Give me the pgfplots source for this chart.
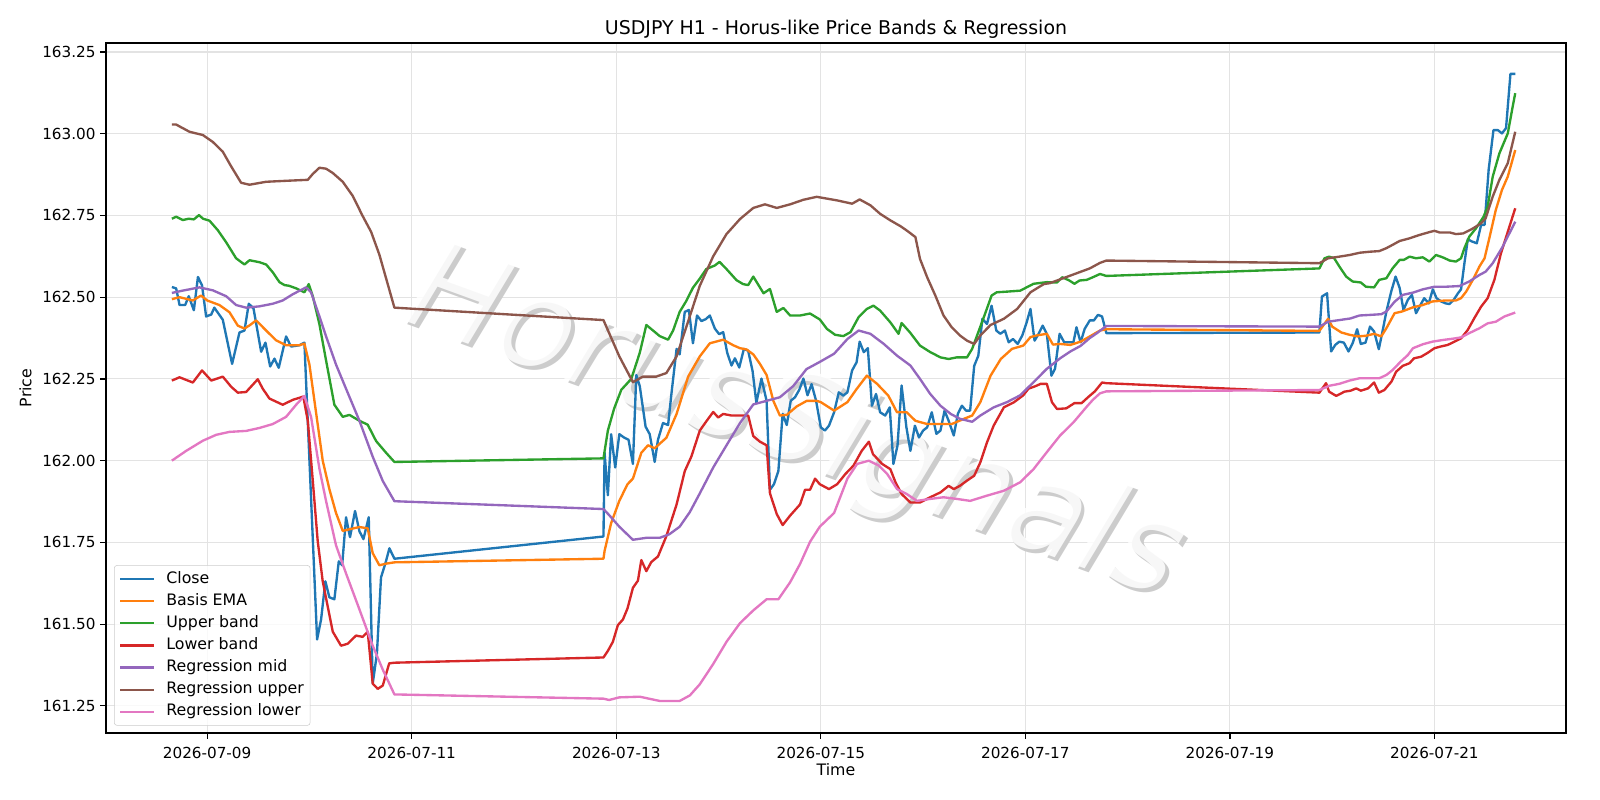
\documentclass[border=0pt]{standalone}
\usepackage{pgfplots}
\pgfplotsset{compat=1.18}
\usepackage{fontspec}
\setmainfont{DejaVu Sans}

\definecolor{cClose}{HTML}{1F77B4}
\definecolor{cBasis}{HTML}{FF7F0E}
\definecolor{cUpper}{HTML}{2CA02C}
\definecolor{cLower}{HTML}{D62728}
\definecolor{cMid}{HTML}{9467BD}
\definecolor{cRegUp}{HTML}{8C564B}
\definecolor{cRegLo}{HTML}{E377C2}

\pgfplotsset{series/.style={#1, line width=1.7pt, line join=round}}

\begin{document}
\begin{tikzpicture}
\begin{axis}[
  at={(0,0)}, anchor=south west,
  width=14.60in, height=6.90in, scale only axis,
  xmin=8.011, xmax=22.286, ymin=161.167, ymax=163.2775,
  xtick={9,11,13,15,17,19,21},
  xticklabels={2026-07-09,2026-07-11,2026-07-13,2026-07-15,2026-07-17,2026-07-19,2026-07-21},
  ytick={161.25,161.5,161.75,162,162.25,162.5,162.75,163,163.25},
  scaled y ticks=false,
  yticklabel style={/pgf/number format/.cd, fixed, fixed zerofill, precision=2},
  xticklabel style={yshift=-2.5pt},
  /pgf/number format/assume math mode=true,
  tick label style={font=\fontsize{11}{13}\selectfont},
  tick align=outside, major tick length=4pt,
  tick style={black, line width=0.9pt},
  xtick pos=bottom, ytick pos=left,
  axis line style={line width=0.9pt},
  grid=major, grid style={line width=0.8pt, black!11},
  title={USDJPY H1 - Horus-like Price Bands \& Regression},
  title style={at={(0.5,1)}, anchor=base, yshift=0.5pt, font=\fontsize{13.7}{16}\selectfont},
  xlabel={Time}, ylabel={Price},
  xlabel style={at={(axis description cs:0.5,-0.0616)}, anchor=base, font=\fontsize{11.4}{13}\selectfont},
  ylabel style={at={(axis description cs:-0.0551,0.5)}, anchor=center, font=\fontsize{11.4}{13}\selectfont},
  legend cell align=left,
  legend image code/.code={\draw[#1] (0cm,0cm) -- (0.86cm,0cm);},
  legend style={at={(0.0055,0.0106)}, anchor=south west, draw=black!20,
    rounded corners=2pt, fill=white, fill opacity=0.8, text opacity=1,
    font=\fontsize{11.4}{13}\selectfont, inner xsep=3.5pt, inner ysep=3.3pt,
    row sep=3pt, column sep=7pt,
    nodes={inner sep=1pt, text height=8.5pt, text depth=2.5pt}},
]

% faint watermark behind the series
\node[xshift=2.8pt, yshift=-2.8pt, rotate=-20, text=black!20,
      font=\fontsize{90}{90}\selectfont\itshape] at (axis cs:14.74,162.105) {HorusSignals};
\node[rotate=-20, text=white, text opacity=0.85,
      font=\fontsize{90}{90}\selectfont\itshape] at (axis cs:14.74,162.105) {HorusSignals};

% Close
\addplot[series=cClose] coordinates {
(8.655,162.531) (8.697,162.527) (8.73,162.476) (8.785,162.476) (8.82,162.503) (8.87,162.46)
(8.91,162.562) (8.95,162.536) (8.99,162.441) (9.04,162.447) (9.07,162.468) (9.153,162.431)
(9.244,162.296) (9.316,162.392) (9.365,162.398) (9.407,162.48) (9.453,162.466) (9.528,162.333)
(9.57,162.361) (9.616,162.288) (9.658,162.312) (9.70,162.284) (9.772,162.38) (9.82,162.349)
(9.902,162.353) (9.951,162.361) (10.075,161.453) (10.114,161.514) (10.156,161.631) (10.195,161.582)
(10.244,161.576) (10.287,161.692) (10.32,161.68) (10.358,161.827) (10.397,161.766) (10.446,161.846)
(10.489,161.784) (10.528,161.76) (10.58,161.827) (10.619,161.318) (10.66,161.41) (10.7,161.643)
(10.743,161.686) (10.782,161.732) (10.831,161.70)
(12.875,161.768) (12.886,162.024) (12.918,161.894) (12.95,162.081) (12.99,161.979) (13.03,162.081)
(13.08,162.07) (13.12,162.064) (13.163,161.99) (13.196,162.262) (13.23,162.228) (13.287,162.104)
(13.327,162.081) (13.376,161.996) (13.408,162.064) (13.457,162.115) (13.507,162.109) (13.54,162.206)
(13.59,162.342) (13.62,162.325) (13.67,162.455) (13.71,162.461) (13.75,162.359) (13.79,162.444)
(13.833,162.427) (13.876,162.433) (13.915,162.444) (13.964,162.404) (14.006,162.387) (14.046,162.393)
(14.085,162.33) (14.127,162.291) (14.16,162.313) (14.203,162.285) (14.248,162.342) (14.29,162.336)
(14.333,162.274) (14.37,162.177) (14.42,162.251) (14.47,162.183) (14.503,161.911) (14.542,161.928)
(14.585,161.968) (14.627,162.143) (14.667,162.109) (14.706,162.183) (14.748,162.194) (14.79,162.217)
(14.83,162.251) (14.87,162.2) (14.91,162.234) (14.954,162.183) (15.0,162.102) (15.04,162.092)
(15.08,162.107) (15.13,162.148) (15.176,162.209) (15.22,162.199) (15.26,162.209) (15.306,162.276)
(15.35,162.301) (15.38,162.364) (15.42,162.332) (15.46,162.344) (15.5,162.168) (15.54,162.204)
(15.58,162.148) (15.63,162.138) (15.674,162.163) (15.71,161.99) (15.75,162.046) (15.79,162.23)
(15.837,162.102) (15.876,162.03) (15.92,162.107) (15.96,162.071) (16.0,162.092) (16.04,162.102)
(16.085,162.148) (16.13,162.082) (16.17,162.092) (16.21,162.153) (16.25,162.122) (16.3,162.077)
(16.34,162.143) (16.38,162.168) (16.42,162.153) (16.46,162.153) (16.5,162.29) (16.54,162.321)
(16.58,162.434) (16.625,162.418) (16.67,162.474) (16.716,162.398) (16.755,162.388) (16.8,162.398)
(16.837,162.362) (16.88,162.372) (16.925,162.357) (16.97,162.383) (17.01,162.42) (17.05,162.464)
(17.09,162.367) (17.13,162.388) (17.17,162.413) (17.21,162.388) (17.255,162.26) (17.29,162.281)
(17.335,162.388) (17.38,162.362) (17.42,162.362) (17.47,162.362) (17.5,162.408) (17.54,162.362)
(17.58,162.403) (17.63,162.429) (17.67,162.429) (17.71,162.446) (17.75,162.441) (17.792,162.39)
(19.875,162.392) (19.9,162.502) (19.95,162.512) (19.99,162.334) (20.03,162.354) (20.07,162.364)
(20.114,162.361) (20.16,162.334) (20.2,162.359) (20.244,162.402) (20.28,162.357) (20.326,162.361)
(20.37,162.41) (20.41,162.395) (20.456,162.341) (20.495,162.4) (20.53,162.456) (20.577,162.517)
(20.62,162.563) (20.66,162.528) (20.697,162.461) (20.74,162.492) (20.78,162.507) (20.82,162.451)
(20.863,162.476) (20.9,162.497) (20.944,162.481) (20.984,162.524) (21.02,162.497) (21.065,162.487)
(21.11,162.481) (21.147,162.479) (21.186,162.491) (21.23,162.512) (21.26,162.524) (21.293,162.604)
(21.326,162.677) (21.37,162.67) (21.414,162.665) (21.456,162.721) (21.49,162.721) (21.53,162.89)
(21.577,163.011) (21.62,163.011) (21.66,163.001) (21.7,163.017) (21.743,163.183) (21.79,163.183)
};
\addlegendentry{Close}

% Basis EMA
\addplot[series=cBasis] coordinates {
(8.655,162.494) (8.73,162.50) (8.86,162.49) (8.94,162.505) (9.0,162.49) (9.12,162.476)
(9.218,162.454) (9.30,162.413) (9.365,162.404) (9.42,162.415) (9.479,162.429) (9.577,162.398)
(9.674,162.368) (9.772,162.353) (9.902,162.353) (9.951,162.358) (10.0,162.294) (10.065,162.147)
(10.13,162.0) (10.195,161.913) (10.26,161.84) (10.326,161.785) (10.39,161.79) (10.489,161.797)
(10.57,161.793) (10.619,161.717) (10.684,161.68) (10.75,161.685) (10.831,161.689)
(12.875,161.70) (12.886,161.724) (12.95,161.809) (13.03,161.877) (13.11,161.928) (13.163,161.945)
(13.245,162.024) (13.31,162.047) (13.376,162.038) (13.49,162.07) (13.59,162.143) (13.703,162.257)
(13.817,162.319) (13.915,162.359) (14.046,162.37) (14.144,162.353) (14.21,162.344) (14.275,162.34)
(14.34,162.325) (14.405,162.296) (14.47,162.262) (14.536,162.183) (14.6,162.138) (14.667,162.14)
(14.765,162.166) (14.863,162.183) (14.96,162.183) (15.0,162.179) (15.13,162.153) (15.26,162.179)
(15.35,162.219) (15.45,162.26) (15.55,162.235) (15.66,162.199) (15.745,162.148) (15.84,162.148)
(15.925,162.122) (16.04,162.112) (16.17,162.112) (16.28,162.112) (16.4,162.128) (16.48,162.138)
(16.56,162.179) (16.66,162.26) (16.76,162.311) (16.87,162.342) (16.98,162.352) (17.05,162.378)
(17.11,162.383) (17.21,162.388) (17.27,162.355) (17.34,162.357) (17.44,162.354) (17.54,162.364)
(17.63,162.38) (17.73,162.398) (17.792,162.402)
(19.875,162.397) (19.96,162.434) (20.0,162.41) (20.09,162.392) (20.17,162.385) (20.25,162.38)
(20.33,162.382) (20.41,162.388) (20.48,162.38) (20.53,162.405) (20.61,162.451) (20.68,162.456)
(20.74,162.463) (20.79,162.469) (20.886,162.476) (20.98,162.487) (21.114,162.49) (21.21,162.49)
(21.26,162.497) (21.31,162.517) (21.375,162.553) (21.44,162.594) (21.49,162.619) (21.54,162.685)
(21.6,162.767) (21.66,162.828) (21.717,162.869) (21.79,162.95)
};
\addlegendentry{Basis EMA}

% Upper band
\addplot[series=cUpper] coordinates {
(8.655,162.74) (8.697,162.746) (8.762,162.736) (8.82,162.74) (8.87,162.738) (8.92,162.751)
(8.96,162.74) (9.023,162.734) (9.104,162.705) (9.186,162.668) (9.283,162.619) (9.365,162.60)
(9.414,162.613) (9.511,162.607) (9.577,162.60) (9.642,162.576) (9.707,162.546) (9.756,162.537)
(9.80,162.535) (9.87,162.527) (9.951,162.515) (9.993,162.54) (10.033,162.503) (10.098,162.417)
(10.163,162.306) (10.244,162.171) (10.326,162.134) (10.391,162.14) (10.489,162.122) (10.57,162.11)
(10.652,162.06) (10.75,162.024) (10.831,161.996)
(12.875,162.007) (12.918,162.092) (12.98,162.16) (13.05,162.217) (13.147,162.25) (13.23,162.33)
(13.294,162.415) (13.36,162.398) (13.425,162.381) (13.507,162.37) (13.556,162.398) (13.62,162.455)
(13.686,162.489) (13.75,162.529) (13.817,162.557) (13.88,162.586) (13.964,162.597) (14.01,162.608)
(14.078,162.586) (14.176,162.552) (14.24,162.54) (14.29,162.537) (14.34,162.563) (14.44,162.512)
(14.503,162.525) (14.569,162.455) (14.634,162.467) (14.70,162.444) (14.797,162.444) (14.895,162.45)
(14.99,162.432) (15.06,162.403) (15.14,162.385) (15.22,162.381) (15.29,162.393) (15.37,162.439)
(15.45,162.464) (15.515,162.474) (15.58,162.459) (15.68,162.423) (15.76,162.388) (15.79,162.421)
(15.87,162.393) (15.97,162.352) (16.07,162.332) (16.17,162.316) (16.25,162.311) (16.33,162.316)
(16.43,162.316) (16.48,162.342) (16.54,162.393) (16.6,162.444) (16.67,162.505) (16.72,162.515)
(16.82,162.517) (16.95,162.52) (17.08,162.541) (17.21,162.546) (17.31,162.545) (17.36,162.561)
(17.43,162.551) (17.48,162.541) (17.53,162.551) (17.6,162.553) (17.66,162.561) (17.73,162.571)
(17.792,162.565)
(19.875,162.588) (19.925,162.619) (19.97,162.624) (20.02,162.619) (20.07,162.594) (20.137,162.563)
(20.2,162.548) (20.28,162.545) (20.33,162.532) (20.41,162.53) (20.46,162.553) (20.53,162.558)
(20.59,162.588) (20.66,162.614) (20.7,162.614) (20.756,162.624) (20.82,162.619) (20.886,162.622)
(20.95,162.609) (21.016,162.629) (21.08,162.622) (21.15,162.612) (21.21,162.609) (21.26,162.619)
(21.293,162.65) (21.34,162.685) (21.407,162.711) (21.48,162.746) (21.52,162.777) (21.57,162.869)
(21.635,162.94) (21.717,163.001) (21.765,163.083) (21.79,163.124)
};
\addlegendentry{Upper band}

% Lower band
\addplot[series=cLower] coordinates {
(8.655,162.245) (8.73,162.255) (8.86,162.239) (8.95,162.276) (9.04,162.245) (9.153,162.257)
(9.235,162.226) (9.30,162.208) (9.381,162.21) (9.495,162.249) (9.544,162.22) (9.609,162.19)
(9.739,162.171) (9.837,162.186) (9.94,162.196) (9.984,162.122) (10.033,161.938) (10.081,161.754)
(10.13,161.631) (10.228,161.477) (10.309,161.434) (10.374,161.44) (10.456,161.465) (10.521,161.461)
(10.57,161.477) (10.619,161.318) (10.668,161.302) (10.717,161.312) (10.78,161.38) (10.831,161.382)
(12.875,161.398) (12.918,161.418) (12.967,161.446) (13.016,161.497) (13.065,161.514) (13.11,161.548)
(13.163,161.611) (13.212,161.633) (13.245,161.696) (13.294,161.662) (13.343,161.69) (13.408,161.707)
(13.49,161.769) (13.59,161.866) (13.67,161.968) (13.735,162.013) (13.817,162.092) (13.88,162.12)
(13.948,162.149) (13.997,162.132) (14.046,162.143) (14.127,162.138) (14.21,162.138) (14.29,162.138)
(14.34,162.075) (14.405,162.058) (14.47,162.047) (14.503,161.9) (14.569,161.837) (14.627,161.803)
(14.7,161.832) (14.797,161.866) (14.846,161.911) (14.895,161.911) (14.944,161.945) (14.99,161.928)
(15.08,161.913) (15.16,161.928) (15.24,161.959) (15.32,161.985) (15.4,162.03) (15.47,162.058)
(15.51,162.02) (15.6,161.99) (15.68,161.974) (15.73,161.934) (15.79,161.898) (15.876,161.872)
(15.97,161.872) (16.07,161.888) (16.17,161.903) (16.25,161.923) (16.3,161.913) (16.36,161.923)
(16.43,161.939) (16.5,161.954) (16.56,161.995) (16.625,162.056) (16.69,162.107) (16.79,162.163)
(16.89,162.179) (16.98,162.2) (17.03,162.22) (17.1,162.228) (17.15,162.235) (17.21,162.235)
(17.26,162.179) (17.31,162.158) (17.4,162.16) (17.48,162.176) (17.55,162.176) (17.62,162.196)
(17.68,162.212) (17.75,162.239) (17.792,162.237)
(19.875,162.208) (19.94,162.237) (19.97,162.211) (20.04,162.198) (20.12,162.211) (20.18,162.214)
(20.235,162.221) (20.28,162.214) (20.35,162.221) (20.41,162.239) (20.456,162.208) (20.51,162.216)
(20.58,162.242) (20.625,162.272) (20.69,162.29) (20.756,162.298) (20.8,162.313) (20.87,162.318)
(20.935,162.33) (21.0,162.344) (21.06,162.349) (21.13,162.354) (21.195,162.364) (21.26,162.374)
(21.326,162.4) (21.39,162.436) (21.456,162.471) (21.52,162.497) (21.586,162.553) (21.65,162.634)
(21.717,162.7) (21.79,162.772)
};
\addlegendentry{Lower band}

% Regression mid
\addplot[series=cMid] coordinates {
(8.655,162.513) (8.76,162.52) (8.925,162.53) (9.055,162.521) (9.186,162.503) (9.283,162.476)
(9.381,162.468) (9.511,162.472) (9.642,162.48) (9.739,162.49) (9.837,162.509) (9.967,162.53)
(10.016,162.515) (10.098,162.441) (10.163,162.38) (10.26,162.294) (10.358,162.22) (10.489,162.122)
(10.619,162.012) (10.717,161.938) (10.831,161.876)
(12.875,161.852) (12.935,161.832) (13.03,161.798) (13.163,161.758) (13.294,161.764) (13.425,161.764)
(13.52,161.775) (13.62,161.798) (13.72,161.843) (13.817,161.9) (13.948,161.979) (14.078,162.047)
(14.21,162.115) (14.34,162.172) (14.47,162.183) (14.6,162.194) (14.73,162.228) (14.86,162.28)
(14.99,162.302) (15.13,162.327) (15.26,162.372) (15.37,162.398) (15.485,162.388) (15.616,162.357)
(15.746,162.321) (15.876,162.291) (15.97,162.25) (16.07,162.204) (16.17,162.168) (16.27,162.143)
(16.36,162.128) (16.48,162.119) (16.56,162.138) (16.69,162.163) (16.82,162.179) (16.95,162.2)
(17.08,162.24) (17.21,162.281) (17.34,162.313) (17.44,162.334) (17.54,162.351) (17.63,162.375)
(17.7,162.39) (17.792,162.412)
(19.875,162.41) (19.96,162.425) (20.07,162.43) (20.18,162.435) (20.267,162.444) (20.38,162.446)
(20.48,162.448) (20.53,162.456) (20.61,162.486) (20.69,162.507) (20.79,162.514) (20.886,162.524)
(21.0,162.532) (21.11,162.532) (21.244,162.534) (21.34,162.548) (21.44,162.568) (21.5,162.578)
(21.57,162.604) (21.668,162.655) (21.79,162.731)
};
\addlegendentry{Regression mid}

% Regression upper
\addplot[series=cRegUp] coordinates {
(8.655,163.028) (8.697,163.028) (8.827,163.006) (8.958,162.996) (9.055,162.975) (9.153,162.945)
(9.235,162.90) (9.332,162.85) (9.414,162.844) (9.577,162.853) (9.772,162.856) (9.984,162.859)
(10.033,162.877) (10.098,162.896) (10.163,162.893) (10.228,162.88) (10.326,162.853) (10.423,162.81)
(10.521,162.748) (10.603,162.70) (10.684,162.63) (10.831,162.468)
(12.875,162.43) (12.935,162.387) (13.03,162.319) (13.163,162.24) (13.26,162.257) (13.39,162.257)
(13.49,162.268) (13.59,162.319) (13.686,162.41) (13.817,162.535) (13.948,162.625) (14.078,162.693)
(14.21,162.739) (14.34,162.773) (14.454,162.784) (14.57,162.773) (14.70,162.784) (14.83,162.798)
(14.96,162.807) (15.16,162.796) (15.306,162.786) (15.38,162.799) (15.485,162.781) (15.58,162.755)
(15.68,162.735) (15.78,162.717) (15.84,162.704) (15.925,162.684) (15.97,162.617) (16.04,162.561)
(16.12,162.505) (16.2,162.444) (16.28,162.408) (16.36,162.383) (16.43,162.367) (16.5,162.357)
(16.56,162.383) (16.66,162.415) (16.79,162.434) (16.92,162.464) (17.05,162.515) (17.18,162.54)
(17.24,162.543) (17.37,162.558) (17.5,162.573) (17.63,162.588) (17.73,162.605) (17.792,162.612)
(19.875,162.604) (19.96,162.619) (20.07,162.624) (20.17,162.629) (20.27,162.636) (20.365,162.639)
(20.46,162.641) (20.53,162.65) (20.59,162.66) (20.66,162.672) (20.756,162.68) (20.85,162.69)
(20.95,162.699) (21.0,162.703) (21.05,162.698) (21.15,162.698) (21.21,162.693) (21.28,162.695)
(21.375,162.71) (21.456,162.726) (21.5,162.741) (21.57,162.808) (21.635,162.859) (21.717,162.91)
(21.79,163.006)
};
\addlegendentry{Regression upper}

% Regression lower
\addplot[series=cRegLo] coordinates {
(8.655,162.0) (8.795,162.03) (8.958,162.061) (9.088,162.079) (9.218,162.088) (9.381,162.091)
(9.511,162.1) (9.642,162.112) (9.772,162.134) (9.87,162.171) (9.951,162.198) (10.016,162.134)
(10.098,161.975) (10.163,161.876) (10.26,161.741) (10.358,161.655) (10.489,161.545) (10.619,161.434)
(10.717,161.361) (10.831,161.285)
(12.875,161.272) (12.93,161.268) (13.03,161.276) (13.23,161.278) (13.425,161.265) (13.62,161.265)
(13.72,161.282) (13.817,161.316) (13.948,161.378) (14.078,161.446) (14.21,161.503) (14.34,161.542)
(14.47,161.576) (14.585,161.576) (14.7,161.628) (14.797,161.684) (14.895,161.752) (14.99,161.798)
(15.13,161.84) (15.26,161.945) (15.355,161.99) (15.47,162.0) (15.567,161.985) (15.65,161.959)
(15.746,161.913) (15.84,161.898) (15.94,161.877) (16.07,161.883) (16.2,161.888) (16.33,161.883)
(16.46,161.877) (16.625,161.893) (16.79,161.908) (16.95,161.934) (17.08,161.974) (17.21,162.026)
(17.34,162.077) (17.47,162.117) (17.6,162.165) (17.66,162.186) (17.73,162.206) (17.792,162.212)
(19.875,162.216) (19.97,162.229) (20.07,162.235) (20.17,162.245) (20.267,162.252) (20.365,162.252)
(20.46,162.252) (20.53,162.262) (20.59,162.277) (20.67,162.303) (20.74,162.323) (20.79,162.344)
(20.886,162.356) (20.98,162.364) (21.08,162.369) (21.18,162.373) (21.26,162.377) (21.34,162.39)
(21.44,162.405) (21.52,162.42) (21.6,162.425) (21.684,162.441) (21.79,162.453)
};
\addlegendentry{Regression lower}

\end{axis}
\path[use as bounding box] (-1.06in,-0.67in) rectangle (14.94in,7.33in);
\end{tikzpicture}
\end{document}
